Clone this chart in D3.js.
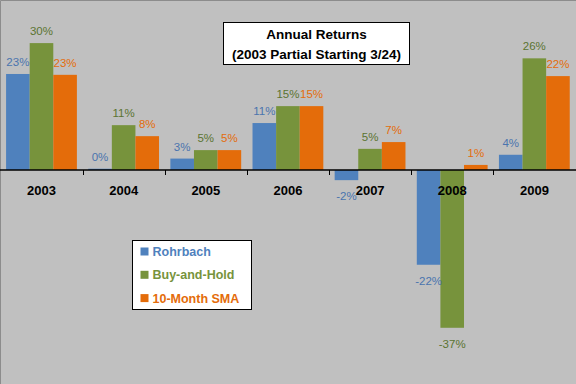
<!DOCTYPE html>
<html lang="en">
<head>
<meta charset="UTF-8">
<title>Annual Returns</title>
<script src="https://d3js.org/d3.v7.min.js"></script>
<style>
  body { margin: 0; background: #c0c0c0; }
  svg { display: block; font-family: "Liberation Sans", Arial, sans-serif; }
</style>
</head>
<body>
<script>
// chart data (percent)
const years = ["2003", "2004", "2005", "2006", "2007", "2008", "2009"];
const seriesNames = ["Rohrbach", "Buy-and-Hold", "10-Month SMA"];
const rohrbach = [22.7, 0.3, 2.7, 11.1, -2.4, -22.4, 3.6];
const buyHold = [30.0, 10.6, 4.7, 15.1, 5.0, -37.3, 26.4];
const sma10 = [22.5, 8.0, 4.7, 15.1, 6.6, 1.2, 22.2];
const titleLines = ["Annual Returns", "(2003 Partial Starting 3/24)"];

const barColors = ["#4f81bd", "#77933c", "#e46c0a"];
const labelColors = ["#4a74ae", "#5b7431", "#e46c0a"];

const W = 576, H = 384;
const allSeries = [rohrbach, buyHold, sma10];

const svg = d3.select("body").append("svg")
    .attr("width", W)
    .attr("height", H);

svg.append("rect").attr("width", W).attr("height", H).attr("fill", "#c0c0c0");
// border (only top and left visible)
svg.append("path").attr("d", "M0.5,384V0.5H576").attr("fill", "none").attr("stroke", "#8c8c8c");

const x = d3.scaleBand().domain(years).range([0.5, 575.5]);
const xs = d3.scaleBand().domain(d3.range(3))
    .range([x.step() * 0.068, x.step() * 0.93]);
const y = d3.scaleLinear().domain([-40, 40]).range([170 + 40 * 4.23, 170 - 40 * 4.23]);

const rows = years.map((yr, i) => ({ yr, vals: allSeries.map(s => s[i]) }));

const grp = svg.append("g").selectAll("g")
    .data(rows)
    .join("g")
    .attr("transform", d => `translate(${x(d.yr)},0)`);

grp.selectAll("rect")
    .data(d => d.vals)
    .join("rect")
    .attr("x", (v, j) => xs(j))
    .attr("width", xs.bandwidth())
    .attr("y", v => y(Math.max(0, v)))
    .attr("height", v => Math.abs(y(v) - y(0)))
    .attr("fill", (v, j) => barColors[j]);

grp.selectAll("text")
    .data(d => d.vals)
    .join("text")
    .attr("x", (v, j) => xs(j) + xs.bandwidth() / 2)
    .attr("y", v => v >= 0 ? y(v) - 8 : y(v) + 20)
    .attr("text-anchor", "middle")
    .attr("font-size", "11.5px")
    .attr("fill", (v, j) => labelColors[j])
    .text(v => Math.round(v) + "%");

// axis at zero
const axis = svg.append("g").attr("transform", `translate(0,${y(0)})`);
axis.append("line").attr("x1", 0).attr("x2", W).attr("stroke", "#000").attr("stroke-width", 1.5);
axis.selectAll(".tk")
    .data(years.slice(1))
    .join("line")
    .attr("x1", d => Math.round(x(d)) + 0.5)
    .attr("x2", d => Math.round(x(d)) + 0.5)
    .attr("y1", 0).attr("y2", 5)
    .attr("stroke", "#000");
axis.selectAll("text")
    .data(years)
    .join("text")
    .attr("x", d => x(d) + x.bandwidth() / 2)
    .attr("y", 25)
    .attr("text-anchor", "middle")
    .attr("font-size", "13px")
    .attr("font-weight", "bold")
    .attr("fill", "#000")
    .text(d => d);

// title box
svg.append("rect").attr("x", 223.5).attr("y", 22.5).attr("width", 186).attr("height", 42)
    .attr("fill", "#fff").attr("stroke", "#000");
svg.selectAll(".title")
    .data(titleLines)
    .join("text")
    .attr("class", "title")
    .attr("x", 316.5)
    .attr("y", (d, i) => 39 + i * 20)
    .attr("text-anchor", "middle")
    .attr("font-size", "13.5px")
    .attr("font-weight", "bold")
    .text(d => d);

// legend
const lg = svg.append("g").attr("transform", "translate(132.5,240.5)");
lg.append("rect").attr("width", 119).attr("height", 69).attr("fill", "#fff").attr("stroke", "#000");
const item = lg.selectAll("g")
    .data(seriesNames)
    .join("g")
    .attr("transform", (d, i) => `translate(8,${11 + i * 23.3})`);
item.append("rect").attr("x", 0).attr("y", -4).attr("width", 8).attr("height", 8)
    .attr("fill", (d, i) => barColors[i]);
item.append("text").attr("x", 12).attr("y", 4.5)
    .attr("font-size", "12.5px")
    .attr("font-weight", "bold")
    .attr("fill", (d, i) => barColors[i])
    .text(d => d);
</script>
</body>
</html>
